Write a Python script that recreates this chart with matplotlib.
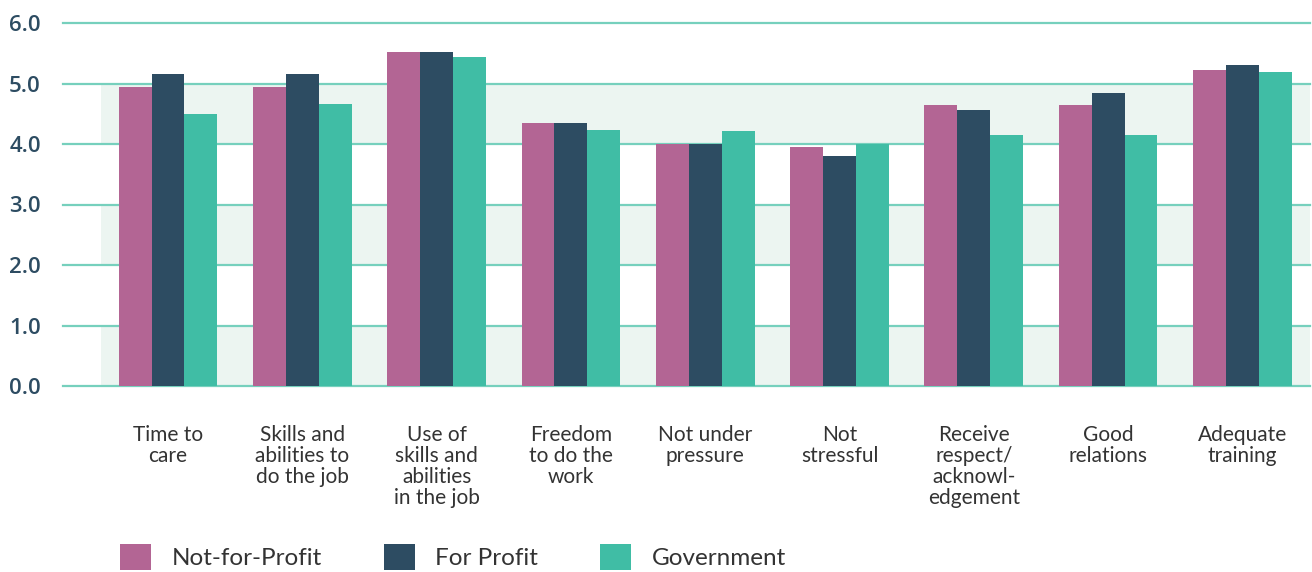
import matplotlib.pyplot as plt
import numpy as np

categories = [
    "Time to\ncare",
    "Skills and\nabilities to\ndo the job",
    "Use of\nskills and\nabilities\nin the job",
    "Freedom\nto do the\nwork",
    "Not under\npressure",
    "Not\nstressful",
    "Receive\nrespect/\nacknowl-\nedgement",
    "Good\nrelations",
    "Adequate\ntraining",
]
not_for_profit = [4.95, 4.95, 5.52, 4.35, 4.00, 3.95, 4.64, 4.64, 5.22]
for_profit = [5.15, 5.15, 5.52, 4.35, 4.00, 3.80, 4.56, 4.84, 5.31]
government = [4.50, 4.66, 5.44, 4.23, 4.21, 4.00, 4.15, 4.15, 5.19]
series_names = ["Not-for-Profit", "For Profit", "Government"]
y_ticks = [0, 1, 2, 3, 4, 5, 6]

colors = ["#b36594", "#2d4c62", "#40bda5"]
grid_color = "#76d0bd"
band_color = "#ecf5f1"
text_dark = "#2d4c62"

fig = plt.figure(figsize=(13.12, 5.72), dpi=100)
ax = fig.add_axes([63 / 1312, 1 - 386 / 572, (1310 - 63) / 1312, (386 - 23) / 572])

x = np.arange(len(categories))
width = 0.245
xlo, xhi = -0.782, 8.503
ax.set_xlim(xlo, xhi)
ax.set_ylim(0, 6)

# alternating shaded bands behind the bars
band_start = (-0.5 - xlo) / (xhi - xlo)
for lo in (0, 2, 4):
    ax.axhspan(lo, lo + 1, xmin=band_start, xmax=1, color=band_color, lw=0, zorder=0)

for t in y_ticks:
    ax.axhline(t, color=grid_color, lw=1.6, zorder=1, clip_on=False)

for i, (vals, name) in enumerate(zip([not_for_profit, for_profit, government], series_names)):
    ax.bar(x + (i - 1) * width, vals, width, color=colors[i], label=name, zorder=2)

for s in ax.spines.values():
    s.set_visible(False)

ax.set_yticks(y_ticks)
ax.set_yticklabels([f"{t:.1f}" for t in y_ticks], fontsize=16, color=text_dark,
                   fontweight="semibold", family="Open Sans")
ax.tick_params(axis="y", length=0, pad=16)

ax.set_xticks(x)
ax.set_xticklabels(categories, fontsize=15, color="#333333", family="Lato",
                   linespacing=1.07, va="top", ha="center")
ax.tick_params(axis="x", length=0, pad=28)

handles, labels = ax.get_legend_handles_labels()
fig.legend(handles, labels, loc="lower left", bbox_to_anchor=(98 / 1312, -0.035),
           ncol=3, frameon=False, prop={"family": "Lato", "size": 17.5},
           handlelength=1.27, handleheight=1.3, handletextpad=0.85, columnspacing=2.55,
           labelcolor="#333333")

fig.savefig("out.png", dpi=100)
